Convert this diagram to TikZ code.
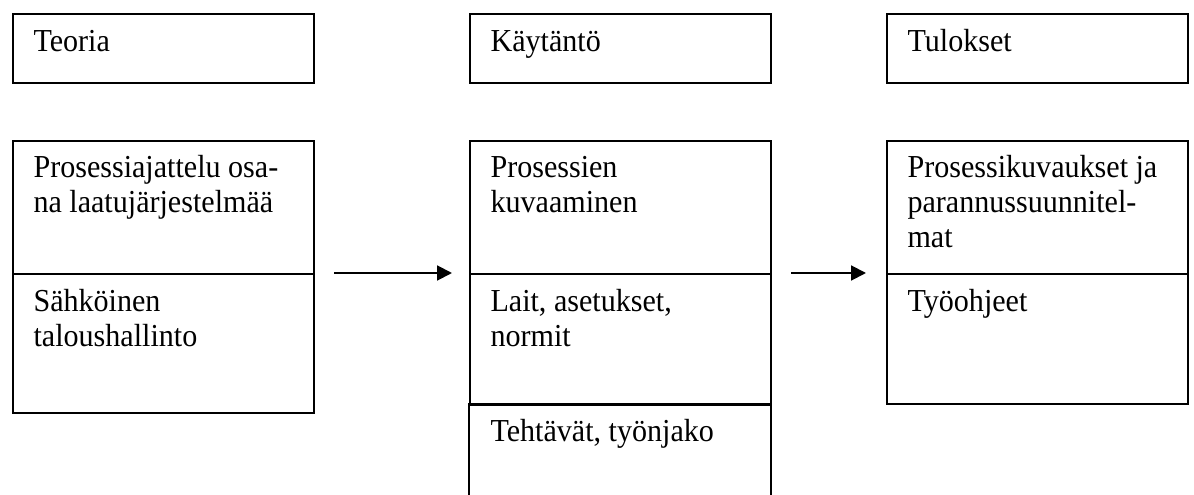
\documentclass[tikz,border=0pt]{standalone}
\usepackage{fontspec}
\setmainfont[FakeStretch=0.94]{Liberation Serif}
\usetikzlibrary{arrows.meta}
% left-aligned multi-line cell text whose baseline is that of its first line
\newcommand\celltext[1]{\parbox[t]{150pt}{\raggedright #1}}

\begin{document}
\begin{tikzpicture}[x=0.375pt, y=-0.375pt,
  cellbox/.style={draw, line width=0.75pt, inner sep=0pt, anchor=north west,
                  minimum width={301*0.375pt}},
  cellcaption/.style={anchor=base west, inner sep=0pt,
                      font=\fontsize{12}{13.125}\selectfont},
  flow/.style={line width=0.75pt, -{Triangle[length=5.6pt,width=5.6pt]}}]
\useasboundingbox (0,0) rectangle (1194,495);

% column headers
\node[cellbox, minimum height={69*0.375pt}] (teoria)   at (12,13)  {};
\node[cellbox, minimum height={69*0.375pt}] (kaytanto) at (469,13) {};
\node[cellbox, minimum height={69*0.375pt}] (tulokset) at (886,13) {};
\node[cellcaption] at (33,52)  {Teoria};
\node[cellcaption] at (490,52) {Käytäntö};
\node[cellcaption] at (907,52) {Tulokset};

% theory column
\node[cellbox, minimum height={133*0.375pt}] (t1) at (12,140) {};
\node[cellbox, minimum height={139*0.375pt}] (t2) at (12,273) {};
\node[cellcaption] at (33,178) {\celltext{Prosessiajattelu osa-\\na laatujärjestelmää}};
\node[cellcaption] at (33,312) {\celltext{Sähköinen\\taloushallinto}};

% practice column
\node[cellbox, minimum height={133*0.375pt}] (k1) at (469,140) {};
\node[cellbox, minimum height={131*0.375pt}] (k2) at (469,273) {};
\node[anchor=north west, inner sep=0pt, minimum width={301*0.375pt},
      minimum height={92*0.375pt}] (k3) at (469,404) {};
\draw[line width=0.75pt] (k3.south west) -- (k3.north west) -- (k3.north east) -- (k3.south east);
\node[cellcaption] at (490,178) {\celltext{Prosessien\\kuvaaminen}};
\node[cellcaption] at (490,312) {\celltext{Lait, asetukset,\\normit}};
\node[cellcaption] at (490,442) {Tehtävät, työnjako};

% results column
\node[cellbox, minimum height={133*0.375pt}] (r1) at (886,140) {};
\node[cellbox, minimum height={130*0.375pt}] (r2) at (886,273) {};
\node[cellcaption] at (907,178) {\celltext{Prosessikuvaukset ja\\parannussuunnitel-\\mat}};
\node[cellcaption] at (907,312) {Työohjeet};

% flow between columns
\draw[flow] ([xshift={19*0.375pt}]t2.north east) -- ([xshift={-17*0.375pt}]k2.north west);
\draw[flow] ([xshift={19*0.375pt}]k2.north east) -- ([xshift={-20*0.375pt}]r2.north west);
\end{tikzpicture}
\end{document}
